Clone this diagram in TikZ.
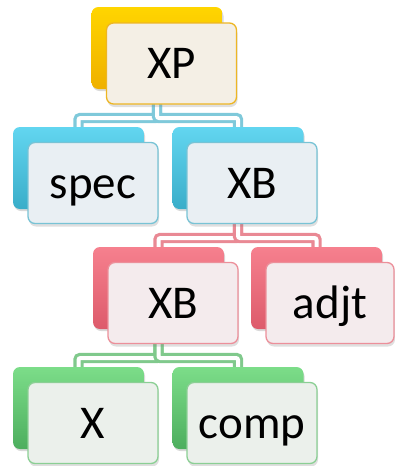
\documentclass[tikz,border=0pt]{standalone}
\usepackage{fontspec}
\setmainfont{Carlito}
\usetikzlibrary{shadows,backgrounds}
\definecolor{goldT}{HTML}{FFD500}
\definecolor{goldB}{HTML}{EFB000}
\definecolor{goldF}{HTML}{F4EFE5}
\definecolor{goldD}{HTML}{EDB624}
\definecolor{blueT}{HTML}{62D6F0}
\definecolor{blueB}{HTML}{3AADC9}
\definecolor{blueF}{HTML}{E9EFF3}
\definecolor{blueD}{HTML}{78C3D5}
\definecolor{blueC}{HTML}{7FC9DA}
\definecolor{redT}{HTML}{F6808E}
\definecolor{redB}{HTML}{DD5B6B}
\definecolor{redF}{HTML}{F4EBED}
\definecolor{redD}{HTML}{EC8F9A}
\definecolor{redC}{HTML}{E98994}
\definecolor{grnT}{HTML}{7CDD89}
\definecolor{grnB}{HTML}{4DAE5E}
\definecolor{grnF}{HTML}{EBF0EB}
\definecolor{grnD}{HTML}{8BCF94}
\definecolor{grnC}{HTML}{80C98C}
\tikzset{
  backbox/.style 2 args={minimum width=131pt, minimum height=82pt, inner sep=0pt,
    rounded corners=7pt, top color=#1, bottom color=#2, draw=none,
    drop shadow={opacity=0.3, shadow xshift=1pt, shadow yshift=-2pt}},
  frontbox/.style 2 args={minimum width=130pt, minimum height=81pt, inner sep=0pt,
    text height=35pt, text depth=5pt,
    rounded corners=7pt, fill=#1, draw=#2, line width=1.3pt,
    font=\fontsize{47}{54}\selectfont,
    drop shadow={opacity=0.25, shadow xshift=1pt, shadow yshift=-3pt}},
  conn/.style={draw=#1, double=white, line width=3.2pt, double distance=4pt, rounded corners=2pt}
}
\begin{document}
\begin{tikzpicture}[x=1pt,y=-1pt]
\useasboundingbox (0,0) rectangle (395,466);
% row 1
\node[backbox={goldT}{goldB}] (xpb) at (157,48) {};
\node[frontbox={goldF}{goldD}] (xp) at (171.5,63.5) {XP};
% row 2
\node[backbox={blueT}{blueB}] (specb) at (78.5,168) {};
\node[frontbox={blueF}{blueD}] (spec) at (93,183) {spec};
\node[backbox={blueT}{blueB}] (xbab) at (238,168) {};
\node[frontbox={blueF}{blueD}] (xba) at (252,183) {XB};
% row 3
\node[backbox={redT}{redB}] (xbbb) at (158.5,288) {};
\node[frontbox={redF}{redD}] (xbb) at (173,303) {XB};
\node[backbox={redT}{redB}] (adjtb) at (316.5,288) {};
\node[frontbox={redF}{redD}, minimum width=128pt] (adjt) at (330,303) {adjt};
% row 4
\node[backbox={grnT}{grnB}] (xb) at (78.5,408) {};
\node[frontbox={grnF}{grnD}] (x) at (93,423) {X};
\node[backbox={grnT}{grnB}] (compb) at (238,408) {};
\node[frontbox={grnF}{grnD}] (comp) at (252,423) {comp};
% bars
\coordinate (bar1) at (0,118);
\coordinate (bar2) at (0,238);
\coordinate (bar3) at (0,358);
\begin{scope}[on background layer]
\draw[conn=blueC] (xpb.south) -- (xpb.south |- bar1) -| (specb.north);
\draw[conn=blueC] (xpb.south) -- (xpb.south |- bar1) -| (xbab.north);
\draw[conn=redC] (xbab.south) -- (xbab.south |- bar2) -| (xbbb.north);
\draw[conn=redC] (xbab.south) -- (xbab.south |- bar2) -| (adjtb.north);
\draw[conn=grnC] (xbbb.south) -- (xbbb.south |- bar3) -| (xb.north);
\draw[conn=grnC] (xbbb.south) -- (xbbb.south |- bar3) -| (compb.north);
\end{scope}
\end{tikzpicture}
\end{document}
